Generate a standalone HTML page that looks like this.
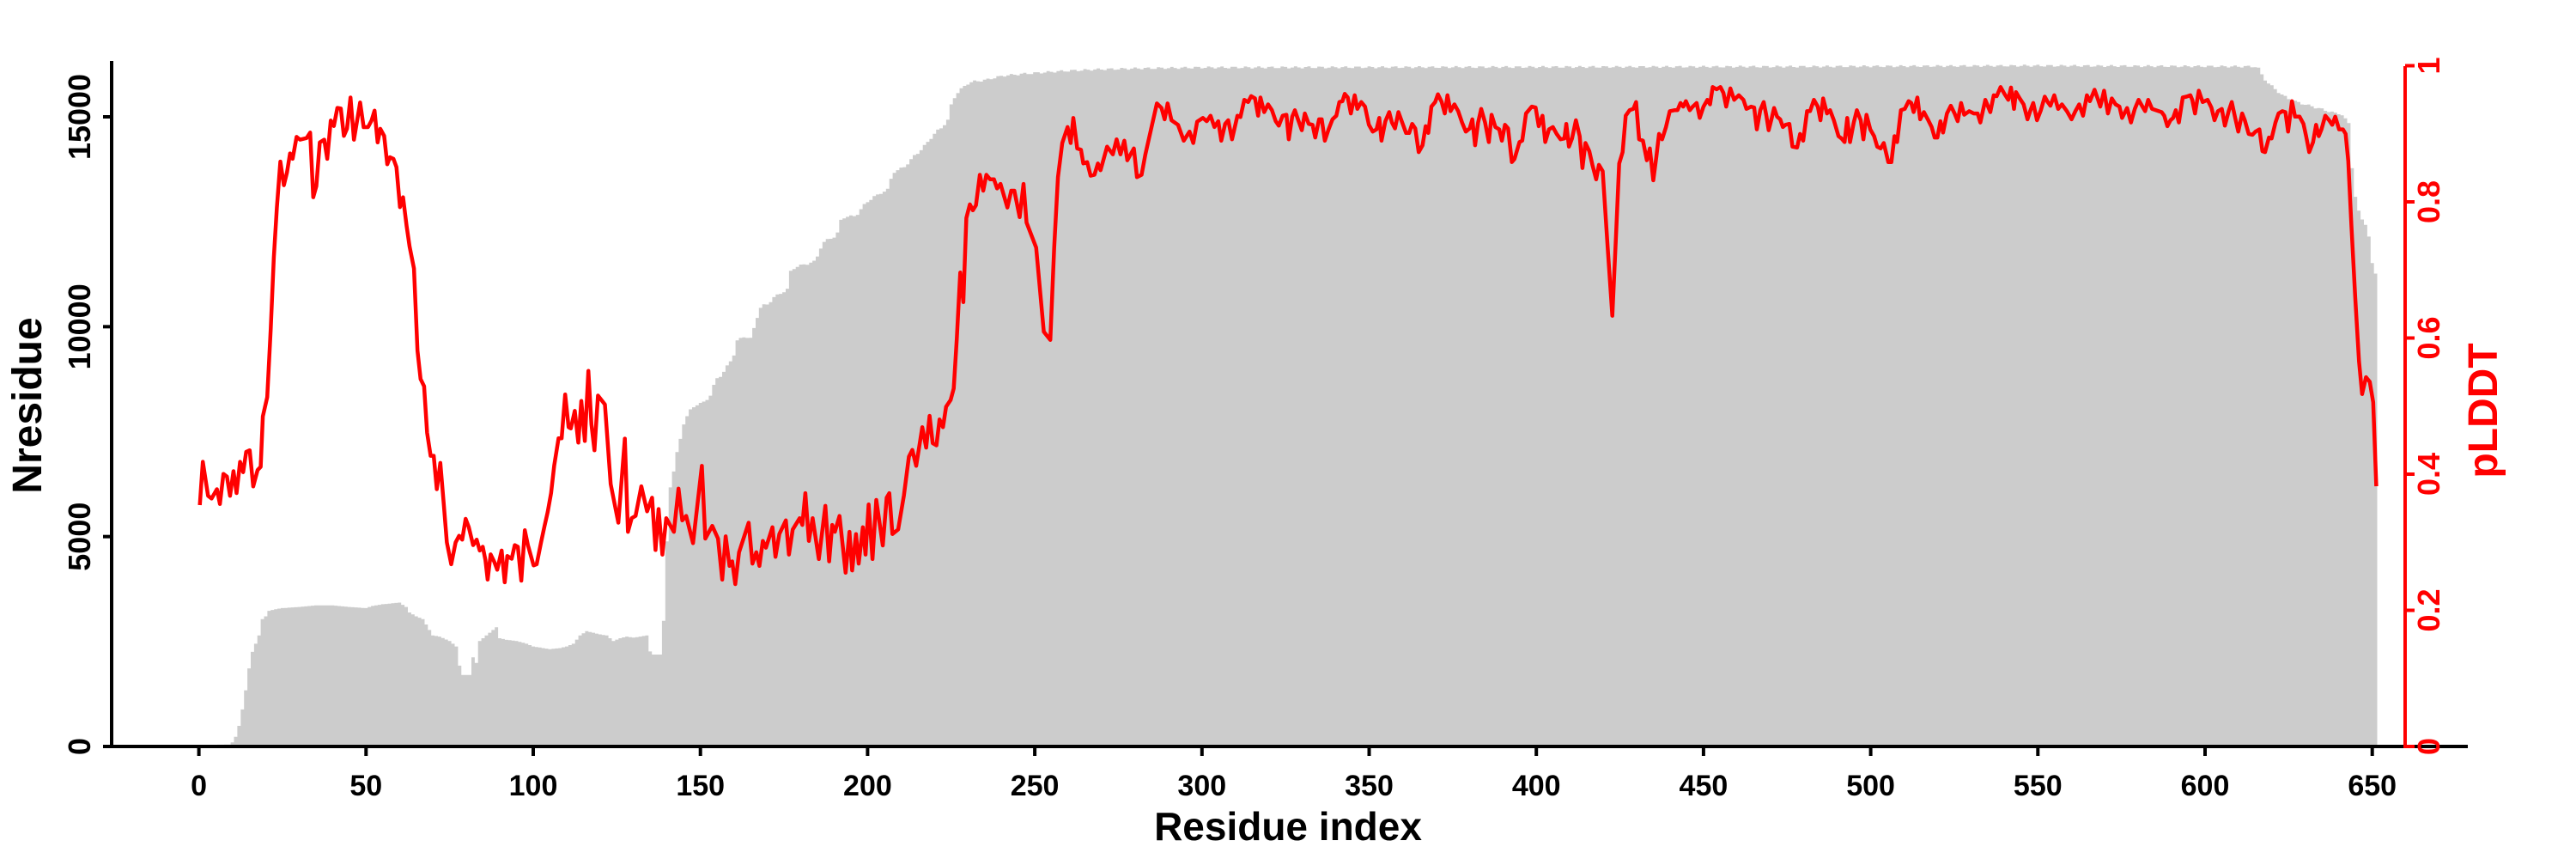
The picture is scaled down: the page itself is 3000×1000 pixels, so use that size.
<!DOCTYPE html>
<html><head><meta charset="utf-8"><style>
html,body{margin:0;padding:0;background:#fff;width:3000px;height:1000px;overflow:hidden}
svg{display:block}
text{font-family:"Liberation Sans",Arial,sans-serif;font-weight:bold}
</style></head><body>
<svg id="s" width="3000" height="1000" viewBox="0 0 3000 1000" xmlns="http://www.w3.org/2000/svg">
<g id="bars" fill="#cccccc"></g>
<polyline id="red" fill="none" stroke="#ff0000" stroke-width="4.5" stroke-linejoin="round"/>
<g stroke="#000" stroke-width="4" fill="none">
<line x1="130" y1="71" x2="130" y2="871"/>
<line x1="128" y1="869" x2="2874" y2="869"/>
<g id="xt"></g><g id="yt"></g>
</g>
<g stroke="#ff0000" stroke-width="4" fill="none">
<line x1="2801" y1="77" x2="2801" y2="871"/>
<g id="rt"></g>
</g>
<g id="labels"></g>
<text x="1500" y="978" font-size="46" text-anchor="middle">Residue index</text>
<text transform="translate(48,472) rotate(-90)" font-size="48" text-anchor="middle">Nresidue</text>
<text transform="translate(2908,478) rotate(-90)" font-size="48" text-anchor="middle" fill="#ff0000">pLDDT</text>
</svg>
<script>
var NS="http://www.w3.org/2000/svg";
function X(r){return 231.6+3.894*r;}
function R(x){return (x-231.6)/3.894;}
function el(t,a,p){var e=document.createElementNS(NS,t);for(var k in a)e.setAttribute(k,a[k]);p.appendChild(e);return e;}
var g=[];
var z1=[[0,1360],[9,1359],[10,1355],[11,1345],[12,1325],[13,1295],[14,1260],[15,1220],[16,1190],[17,1175],[18,1160],[19,1130],[20,1125],[21,1115],[23,1112],[25,1110],[30,1108],[35,1105],[40,1105],[45,1108],[50,1110],[52,1106],[55,1103],[60,1100],[62,1108],[63,1118],[65,1125],[67,1130],[68,1140],[70,1160],[72,1162],[75,1170],[77,1180],[78,1215],[79,1232],[81,1232],[82,1200],[83,1210],[84,1170],[86,1160],[88,1150],[89,1145],[90,1165],[92,1168],[95,1170],[98,1175],[100,1180],[102,1182],[105,1185],[108,1183],[110,1180],[112,1175],[114,1160],[116,1152],[118,1155],[120,1158],[122,1160],[124,1170],[126,1165],[128,1162],[130,1164],[132,1162],[134,1160]];
z1.forEach(function(p){g.push([p[0],p[1]/1.568]);});
var z3=[[130,1345],[160,1345],[165,1230],[172,1095],[180,980],[190,940],[198,900],[207,870],[218,830],[235,805],[250,795],[270,790],[285,775],[300,740],[315,730],[330,710],[345,690],[355,655],[375,645],[390,650],[400,625],[410,595],[418,578],[435,575],[450,560],[470,550],[490,540],[495,500],[510,492],[540,485],[560,480],[570,455],[580,440],[595,430],[615,425],[625,390],[635,383],[665,380],[675,370],[690,352],[710,340],[730,330],[750,322],[760,285],[775,280],[795,270],[808,258],[820,245],[830,240],[850,220],[860,210],[875,195],[890,185],[905,170],[915,130],[925,115],[935,105],[955,90],[970,85],[1000,82],[1020,78],[1050,72],[1100,68],[1200,62],[1300,58],[1400,56],[1568,54]];
z3.forEach(function(p){g.push([R(p[0]/2.24+700),p[1]/1.889+50]);});
var z5=[[0,52],[600,50],[1185,52],[1200,75],[1215,90],[1230,100],[1250,115],[1280,128],[1350,145],[1410,160],[1425,178],[1435,315],[1445,355],[1455,385],[1465,395],[1475,420],[1482,475],[1490,505],[1497,510]];
z5.forEach(function(p){g.push([R(p[0]/2.24+2100),p[1]/1.889+50]);});
g.sort(function(a,b){return a[0]-b[0];});
function interp(arr,r){if(r<=arr[0][0])return arr[0][1];for(var i=1;i<arr.length;i++){if(r<=arr[i][0]){var a=arr[i-1],b=arr[i];var t=(r-a[0])/(b[0]-a[0]||1);return a[1]+t*(b[1]-a[1]);}}return arr[arr.length-1][1];}
var d="";
for(var r=0;r<=651;r++){var y=interp(g,r);if(r>145&&r<640)y+=Math.sin(r*1.7)*1.2;var x=X(r)-1.947;d+="M"+x.toFixed(1)+" 869V"+y.toFixed(1)+"h3.894V869z";}
el("path",{d:d},document.getElementById("bars"));
var pts=[];
var r1=[[456,922],[463,843],[475,905],[483,910],[495,893],[502,920],[510,865],[518,870],[525,905],[533,860],[540,900],[548,843],[555,862],[562,825],[570,822],[578,888],[588,858],[595,852],[600,760],[610,725],[618,600],[625,470],[632,380],[640,295],[648,338],[655,315],[662,280],[668,290],[677,250],[685,255],[700,252],[708,242],[715,360],[722,340],[730,260],[740,255],[747,290],[755,220],[762,230],[770,197],[778,198],[785,248],[792,235],[800,178],[808,255],[822,187],[830,232],[840,232],[848,220],[855,202],[862,260],[868,235],[877,248],[884,300],[890,287],[898,290],[905,305],[913,378],[920,360],[928,412],[935,450],[945,490],[953,640],[960,692],[968,705],[975,790],[983,832],[990,832],[997,893],[1005,845],[1013,920],[1020,990],[1030,1030],[1040,990],[1048,978],[1055,985],[1063,947],[1070,962],[1080,995],[1088,985],[1095,1005],[1102,998],[1108,1022],[1113,1058],[1120,1012],[1128,1025],[1135,1040],[1145,1005],[1152,1063],[1158,1015],[1168,1020],[1175,995],[1182,998],[1190,1060],[1198,968],[1205,995],[1218,1032],[1225,1030],[1235,990],[1243,960],[1250,935],[1258,900],[1265,850],[1275,800],[1282,800],[1290,720],[1298,780],[1303,782],[1312,750],[1320,808],[1327,732],[1335,805],[1343,677],[1350,775],[1357,822],[1365,722]];
r1.forEach(function(p){pts.push([p[0]/1.96,p[1]/1.568]);});
var r3=[[10,795],[25,970],[45,1055],[62,870],[70,1075],[80,1045],[90,1040],[105,975],[120,1030],[133,1000],[142,1115],[150,1025],[160,1125],[170,1045],[190,1075],[202,980],[212,1050],[222,1040],[240,1100],[263,930],[272,1090],[290,1062],[305,1090],[316,1180],[325,1085],[335,1150],[342,1140],[350,1190],[360,1120],[385,1055],[395,1145],[405,1120],[413,1150],[422,1095],[430,1110],[447,1065],[455,1130],[465,1080],[482,1050],[490,1125],[500,1070],[518,1045],[525,1060],[533,990],[542,1095],[552,1045],[568,1135],[585,1018],[595,1140],[603,1060],[610,1075],[622,1040],[638,1165],[648,1075],[655,1160],[665,1080],[672,1145],[683,1065],[690,1125],[698,1015],[708,1135],[718,1005],[735,1105],[745,1000],[752,990],[760,1080],[775,1070],[790,995],[803,910],[812,895],[822,930],[838,845],[848,890],[857,820],[865,880],[875,885],[883,828],[892,845],[900,800],[912,785],[920,760],[928,650],[937,505],[945,570],[953,385],[962,355],[970,368],[978,357],[988,290],[997,325],[1005,290],[1015,300],[1025,300],[1033,320],[1042,310],[1060,362],[1070,325],[1078,325],[1092,383],[1102,310],[1110,395],[1135,450],[1155,635],[1172,653],[1182,450],[1192,295],[1203,220],[1217,185],[1225,220],[1232,165],[1242,232],[1252,235],[1258,265],[1268,262],[1277,292],[1287,290],[1296,265],[1303,280],[1320,228],[1335,245],[1345,212],[1355,245],[1365,215],[1373,258],[1390,232],[1398,295],[1410,290],[1420,245],[1450,133],[1462,143],[1470,168],[1478,133],[1488,170],[1505,180],[1520,215],[1535,195],[1545,220],[1555,173]];
r3.forEach(function(p){pts.push([p[0]/2.24+700,p[1]/1.889+50]);});
var r4=[[2,165],[12,172],[22,160],[32,185],[42,172],[50,215],[60,178],[68,170],[78,212],[92,160],[100,163],[110,125],[120,130],[128,117],[138,122],[146,160],[152,120],[162,152],[172,135],[182,148],[192,172],[200,182],[210,160],[220,158],[226,212],[235,162],[242,148],[250,168],[260,192],[268,155],[278,178],[288,180],[295,208],[305,168],[312,168],[320,215],[330,190],[340,168],[350,160],[358,130],[366,128],[372,112],[380,120],[388,155],[398,115],[405,145],[415,130],[425,140],[435,180],[445,195],[455,190],[462,165],[468,215],[478,172],[488,152],[495,175],[503,188],[512,152],[522,175],[532,198],[540,198],[548,178],[556,188],[565,240],[575,225],[583,183],[590,198],[598,140],[608,130],[615,113],[625,130],[633,155],[640,115],[648,150],[658,135],[668,150],[678,175],[688,195],[698,188],[705,168],[712,225],[720,175],[728,145],[738,175],[748,218],[755,158],[765,185],[775,190],[782,215],[790,180],[798,188],[808,262],[815,255],[828,218],[835,215],[845,155],[852,148],[860,140],[870,142],[878,183],[888,160],[895,218],[905,190],[915,185],[925,200],[935,212],[945,210],[950,178],[957,228],[965,210],[975,170],[985,205],[992,275],[1000,220],[1010,238],[1018,268],[1028,300],[1035,268],[1045,282],[1058,450],[1070,600],[1080,420],[1088,265],[1097,240],[1105,160],[1115,148],[1125,145],[1132,130],[1140,212],[1150,215],[1160,258],[1168,232],[1177,302],[1185,250],[1192,200],[1200,212],[1210,185],[1220,150],[1232,148],[1240,148],[1248,132],[1255,140],[1262,128],[1272,148],[1280,140],[1290,132],[1298,165],[1308,140],[1318,125],[1325,135],[1332,97],[1342,102],[1352,97],[1360,110],[1367,140],[1378,100],[1388,125],[1400,115],[1412,125],[1420,145],[1432,140],[1440,142],[1447,190],[1456,148],[1465,130],[1472,160],[1478,192],[1486,165],[1492,143],[1500,162],[1508,168],[1515,185],[1522,180],[1532,178],[1540,228],[1552,230],[1560,200]];
r4.forEach(function(p){pts.push([p[0]/2.24+1400,p[1]/1.889+50]);});
var r5=[[0,215],[10,150],[18,150],[28,125],[38,140],[45,170],[52,122],[62,155],[70,148],[80,170],[92,205],[100,210],[108,218],[115,165],[122,218],[132,175],[140,148],[150,170],[157,212],[165,158],[175,190],[185,205],[193,228],[202,232],[210,220],[222,262],[230,262],[238,205],[245,218],[255,148],[265,145],[275,128],[282,132],[288,152],[298,120],[305,168],[315,152],[325,168],[335,185],[343,208],[350,208],[358,172],[365,197],[375,155],[385,138],[395,155],[403,172],[412,132],[420,158],[433,150],[445,155],[455,155],[462,175],[475,125],[488,152],[497,115],[505,117],[515,97],[525,112],[535,125],[542,98],[550,145],[555,108],[565,122],[575,135],[585,168],[592,150],[600,132],[610,170],[620,148],[630,118],[638,130],[645,138],[655,115],[665,145],[675,135],[688,150],[700,168],[710,150],[720,135],[730,160],[740,115],[748,128],[760,103],[768,122],[775,140],[785,105],[795,155],[805,122],[815,135],[825,140],[832,165],[845,143],[855,175],[865,145],[875,125],[885,140],[892,150],[900,125],[910,145],[920,148],[935,152],[942,160],[950,183],[958,170],[965,165],[972,148],[980,175],[990,120],[1000,118],[1010,115],[1015,125],[1022,155],[1032,105],[1042,130],[1055,125],[1065,142],[1073,170],[1082,150],[1092,145],[1100,182],[1110,150],[1118,130],[1127,165],[1135,195],[1145,155],[1152,170],[1162,200],[1172,202],[1180,195],[1190,190],[1198,238],[1205,240],[1215,208],[1222,210],[1232,175],[1240,155],[1250,150],[1258,152],[1265,195],[1275,128],[1283,162],[1295,162],[1305,178],[1312,205],[1320,240],[1330,218],[1338,180],[1345,205],[1352,190],[1362,160],[1372,170],[1380,180],[1388,162],[1398,190],[1408,190],[1415,200],[1422,260],[1430,400],[1440,560],[1450,700],[1458,772],[1468,735],[1478,745],[1487,790],[1495,975]];
r5.forEach(function(p){pts.push([p[0]/2.24+2100,p[1]/1.889+50]);});
document.getElementById("red").setAttribute("points",pts.map(function(p){return p[0].toFixed(1)+","+p[1].toFixed(1);}).join(" "));
var xt=document.getElementById("xt"),yt=document.getElementById("yt"),rt=document.getElementById("rt"),lb=document.getElementById("labels");
for(var v=0;v<=650;v+=50){var x=X(v);el("line",{x1:x,y1:869,x2:x,y2:880},xt);var t=el("text",{x:x,y:926,"font-size":"34","text-anchor":"middle"},lb);t.textContent=v;}
[0,5000,10000,15000].forEach(function(v){var y=869-v*(733/15000);el("line",{x1:120,y1:y,x2:130,y2:y},yt);var t=el("text",{transform:"translate(105,"+y+") rotate(-90)","font-size":"36","text-anchor":"middle"},lb);t.textContent=v;});
[0,0.2,0.4,0.6,0.8,1].forEach(function(v){var y=869-v*792.5;el("line",{x1:2801,y1:y,x2:2812,y2:y},rt);var t=el("text",{transform:"translate(2841,"+y+") rotate(-90)","font-size":"36","text-anchor":"middle",fill:"#ff0000"},lb);t.textContent=v;});
</script>
</body></html>
